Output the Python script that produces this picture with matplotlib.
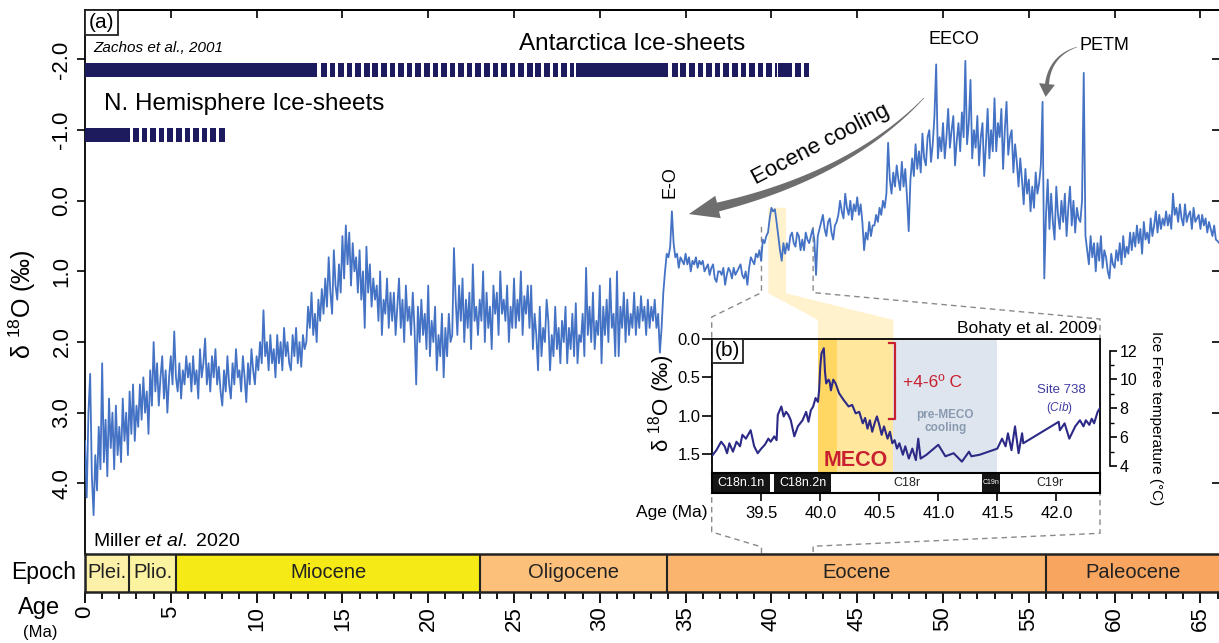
import numpy as np
import matplotlib
matplotlib.use("Agg")
import matplotlib.pyplot as plt
from matplotlib.patches import Polygon, Rectangle
import matplotlib.transforms as mtransforms

plt.rcParams['font.family'] = ['Liberation Sans', 'DejaVu Sans']
plt.rcParams['mathtext.fontset'] = 'custom'
plt.rcParams['mathtext.rm'] = 'Liberation Sans'
plt.rcParams['mathtext.it'] = 'Liberation Sans:italic'
plt.rcParams['mathtext.bf'] = 'Liberation Sans:bold'
plt.rcParams['mathtext.default'] = 'regular'
plt.rcParams['axes.linewidth'] = 1.3

# ---------------- data ----------------
main_age_start = 0.0
main_age_step = 0.1
main_d18o = [
    3.4, 4.2, 3.0, 2.45, 3.9, 4.45, 3.6, 4.1, 3.2, 3.8,
    2.3, 3.7, 3.1, 3.9, 2.8, 3.5, 3.0, 3.8, 2.9, 3.6,
    3.2, 3.7, 2.8, 3.4, 3.0, 3.6, 2.7, 3.3, 2.6, 3.4,
    2.9, 3.2, 2.6, 3.1, 2.5, 3.0, 2.7, 3.3, 2.4, 2.9,
    2.0, 2.7, 2.3, 2.9, 2.5, 2.2, 2.8, 2.4, 3.0, 2.5,
    2.2, 2.6, 1.85, 2.5, 2.7, 2.3, 2.8, 2.4, 2.6, 2.2,
    2.5, 2.3, 2.7, 2.2, 2.6, 2.4, 2.8, 2.1, 2.5, 2.3,
    1.95, 2.6, 2.3, 2.7, 2.2, 2.5, 2.1, 2.6, 2.35, 2.7,
    2.9, 2.4, 2.7, 2.2, 2.6, 2.8, 2.3, 2.6, 2.1, 2.5,
    2.4, 2.7, 2.2, 2.5, 2.85, 2.3, 2.6, 2.1, 2.4, 2.6,
    2.2, 2.4, 2.0, 2.3, 1.55, 2.2, 2.0, 2.4, 1.9, 2.3,
    2.1, 2.5, 1.9, 2.3, 2.0, 2.4, 1.8, 2.2, 2.0, 2.3,
    2.4, 1.9, 2.2, 1.8, 2.3, 2.0, 2.35, 1.9, 2.1, 2.0,
    1.5, 1.8, 1.3, 1.9, 1.6, 2.0, 1.4, 1.7, 1.25, 1.6,
    1.1, 1.5, 0.8, 1.3, 1.6, 0.7, 1.2, 1.4, 0.9, 1.3,
    0.5, 1.1, 0.35, 0.9, 0.45, 1.2, 0.6, 1.0, 0.8, 1.3,
    0.7, 1.4, 1.0, 1.8, 0.65, 1.3, 0.9, 1.5, 1.1, 1.4,
    1.2, 1.7, 1.0, 1.9, 1.4, 1.6, 1.1, 1.8, 1.3, 1.7,
    1.3, 1.9, 1.5, 1.1, 1.8, 1.4, 2.0, 1.2, 1.7, 1.5,
    1.9, 1.3, 1.8, 2.6, 1.5, 2.0, 1.4, 1.9, 1.6, 2.1,
    1.2, 2.2, 1.7, 2.0, 1.5, 2.4, 1.9, 2.2, 1.6, 2.5,
    1.8, 2.2, 1.6, 2.0, 1.9, 0.67, 1.4, 1.9, 1.2, 1.7,
    1.1, 2.0, 1.4, 1.8, 1.3, 2.1, 0.9, 1.7, 1.5, 1.9,
    1.4, 1.7, 1.0, 2.0, 1.3, 1.8, 1.5, 2.1, 1.2, 1.6,
    1.3, 1.9, 1.0, 1.6, 1.4, 1.7, 1.2, 2.0, 1.5, 1.8,
    1.1, 1.8, 1.4, 1.7, 1.0, 1.9, 1.35, 1.6, 1.2, 1.8,
    1.2, 2.1, 1.6, 1.9, 2.4, 1.5, 2.2, 1.8, 2.0, 1.4,
    1.7, 2.4, 1.9, 2.2, 1.5, 2.1, 1.8, 2.3, 1.7, 2.0,
    1.5, 2.3, 1.8, 2.1, 1.6, 2.2, 1.45, 2.3, 1.9, 2.0,
    1.6, 2.2, 0.95, 1.9, 1.5, 2.0, 1.3, 2.1, 1.7, 1.9,
    1.2, 2.3, 1.5, 1.9, 1.4, 2.0, 1.1, 1.8, 1.6, 2.2,
    1.0, 2.2, 1.5, 1.8, 1.3, 2.0, 1.4, 1.9, 1.6, 1.8,
    1.3, 1.9, 1.5, 1.8, 1.35, 1.7, 1.5, 1.9, 1.4, 1.8,
    1.5, 1.7, 1.4, 1.8, 1.6, 2.15, 1.8, 1.3, 1.0, 0.75,
    0.8, 0.65, 0.15, 0.6, 0.8, 0.75, 0.95, 0.8, 0.85, 0.9,
    0.75, 0.9, 0.8, 1.0, 0.85, 0.9, 0.8, 0.95, 0.85, 0.9,
    0.85, 1.0, 0.95, 0.9, 1.05, 0.95, 0.9, 1.1, 1.15, 1.0,
    1.0, 1.05, 0.95, 1.19, 1.05, 0.95, 1.0, 1.1, 0.95, 1.05,
    1.0, 0.95, 0.9, 1.05, 1.1, 1.0, 1.19, 0.95, 0.8, 0.85,
    0.9, 0.75, 0.8, 0.7, 0.85, 0.55, 0.6, 0.5, 0.45, 0.25,
    0.1, 0.15, 0.12, 0.3, 0.5, 0.7, 0.85, 0.6, 0.75, 0.6,
    0.7, 0.5, 0.45, 0.6, 0.65, 0.45, 0.5, 0.7, 0.55, 0.7,
    0.45, 0.55, 0.6, 0.5, 0.4, 0.55, 1.05, 0.5, 0.4, 0.3,
    0.2, 0.4, 0.5, 0.3, 0.25, 0.45, 0.55, 0.35, 0.3, 0.2,
    0.0, 0.15, 0.25, -0.1, 0.1, 0.2, 0.0, 0.27, 0.05, 0.15,
    -0.05, 0.2, 0.05, 0.3, 0.7, 0.45, 0.55, 0.3, 0.5, 0.35,
    0.35, 0.2, 0.3, 0.1, 0.2, 0.0, 0.1, -0.1, -0.82, -0.3,
    -0.1, -0.4, -0.2, -0.5, -0.3, -0.15, -0.55, -0.2, -0.45, -0.05,
    0.43, -0.3, -0.6, -0.35, -0.8, -0.45, -0.7, -0.4, -0.95, -0.6,
    -0.5, -0.9, -1.0, -0.55, -0.8, -1.2, -1.93, -0.6, -0.9, -0.7,
    -1.1, -0.6, -0.9, -1.3, -0.75, -1.0, -1.2, -0.5, -0.85, -1.1,
    -0.7, -1.25, -0.9, -1.98, -0.8, -1.1, -1.71, -0.6, -1.0, -0.75,
    -1.2, -0.5, -0.9, -1.1, -0.35, -0.8, -1.3, -0.6, -1.0, -0.7,
    -1.45, -0.7, -1.1, -0.9, -1.3, -0.45, -1.0, -1.4, -0.65, -0.9,
    -1.0, -0.4, -0.8, -0.55, -0.2, -0.6, -0.3, 0.05, -0.45, -0.1,
    -0.3, 0.15, -0.2, 0.1, -0.4, -0.1, -0.25, -0.5, -1.4, 1.1,
    0.2, -0.3, 0.4, -0.1, 0.3, 0.55, -0.2, 0.2, 0.4, 0.0,
    0.3, -0.1, 0.5, 0.1, -0.2, 0.35, 0.0, 0.45, 0.1, 0.25,
    0.3, 0.0, -1.81, 0.5, 0.7, 0.9, 0.5, 0.8, 0.6, 1.0,
    0.6, 0.85, 0.5, 0.95, 0.7, 0.8, 1.0, 1.1, 0.75, 0.9,
    0.95, 0.7, 0.85, 0.6, 0.9, 0.5, 0.8, 0.65, 0.75, 0.45,
    0.7, 0.45, 0.65, 0.35, 0.6, 0.4, 0.75, 0.3, 0.55, 0.45,
    0.6, 0.25, 0.5, 0.35, 0.15, 0.45, 0.2, 0.4, 0.25, 0.35,
    0.15, 0.35, 0.2, 0.4, -0.1, 0.2, 0.1, 0.3, 0.05, 0.25,
    0.35, 0.05, 0.3, 0.2, 0.15, 0.4, 0.1, 0.3, 0.25, 0.2,
    0.4, 0.2, 0.35, 0.25, 0.45, 0.3, 0.4, 0.5, 0.35, 0.55,
    0.57, 0.6,
]
main_age = np.round(main_age_start + main_age_step * np.arange(len(main_d18o)), 2)

inset_age = [
    39.09, 39.12, 39.16, 39.19, 39.21, 39.23, 39.26, 39.29, 39.32, 39.34,
    39.37, 39.41, 39.44, 39.47, 39.50, 39.53, 39.56, 39.58, 39.61, 39.63,
    39.64, 39.67, 39.69, 39.71, 39.73, 39.75, 39.78, 39.81, 39.85, 39.88,
    39.90, 39.92, 39.94, 39.96, 39.98, 39.99, 40.00, 40.01, 40.03, 40.04,
    40.05, 40.07, 40.08, 40.09, 40.11, 40.13, 40.16, 40.20, 40.24, 40.27,
    40.30, 40.33, 40.36, 40.38, 40.40, 40.42, 40.44, 40.46, 40.48, 40.50,
    40.52, 40.54, 40.57, 40.59, 40.61, 40.63, 40.65, 40.67, 40.70, 40.72,
    40.75, 40.78, 40.81, 40.83, 40.85, 40.90, 41.00, 41.06, 41.13, 41.20,
    41.26, 41.28, 41.35, 41.50, 41.54, 41.57, 41.59, 41.62, 41.65, 41.68,
    41.71, 41.72, 42.02, 42.03, 42.07, 42.11, 42.16, 42.20, 42.23, 42.25,
    42.28, 42.30, 42.32, 42.35, 42.37,
]
inset_d18o = [
    1.51, 1.45, 1.34, 1.40, 1.49, 1.36, 1.47, 1.34, 1.40, 1.25,
    1.30, 1.19, 1.40, 1.49, 1.43, 1.38, 1.30, 1.34, 1.27, 1.32,
    0.99, 0.88, 1.01, 0.95, 0.99, 1.06, 1.27, 1.14, 1.06, 0.95,
    1.08, 0.93, 0.88, 0.77, 0.82, 0.67, 0.36, 0.19, 0.12, 0.43,
    0.58, 0.53, 0.56, 0.67, 0.53, 0.58, 0.71, 0.80, 0.88, 0.86,
    0.97, 0.95, 1.10, 1.03, 1.17, 1.06, 1.21, 1.10, 1.01, 1.12,
    1.25, 1.14, 1.30, 1.21, 1.36, 1.32, 1.43, 1.36, 1.51, 1.40,
    1.56, 1.43, 1.58, 1.30, 1.56, 1.51, 1.38, 1.53, 1.49, 1.60,
    1.47, 1.53, 1.51, 1.43, 1.30, 1.40, 1.23, 1.45, 1.14, 1.49,
    1.23, 1.36, 1.08, 1.19, 1.10, 1.30, 1.14, 1.06, 1.14, 1.06,
    1.12, 1.04, 1.10, 0.95, 0.90,
]

epoch_names = ['Plei.', 'Plio.', 'Miocene', 'Oligocene', 'Eocene', 'Paleocene']
epoch_bounds = [0.0, 2.58, 5.33, 23.03, 33.9, 56.0, 66.2]
epoch_colors = ['#FDF1AA', '#FBF3A0', '#F5EA16', '#FDC07A', '#FAB46D', '#F8A65F']

chron_names = ['C18n.1n', '', 'C18n.2n', 'C18r', 'C19n', 'C19r']
chron_bounds = [39.08, 39.57, 39.61, 40.09, 41.37, 41.52, 42.37]
chron_normal = [True, False, True, False, True, False]

antarctic_solid = [(0.0, 13.5), (28.6, 34.0), (40.36, 41.18)]
antarctic_dashed = [(13.75, 28.5), (34.2, 40.3), (41.4, 42.2)]
nh_solid = [(0.0, 2.6)]
nh_dashed = [(2.8, 8.2)]

meco_event = (39.98, 40.62)
meco_core = (39.98, 40.14)
pre_meco = (40.62, 41.5)

main_yticks = [-2.0, -1.0, 0.0, 1.0, 2.0, 3.0, 4.0]
main_xticks = list(range(0, 66, 5))
inset_yticks = [0.0, 0.5, 1.0, 1.5]
inset_xticks = [39.5, 40.0, 40.5, 41.0, 41.5, 42.0]
temp_ticks = [4, 6, 8, 10, 12]
temp_minor = [5, 7, 9, 11]

# ---------------- layout helpers ----------------
W, H = 1219, 643
fig = plt.figure(figsize=(W / 100, H / 100), dpi=100)


def rect(l, t, r, b):
    return [l / W, 1 - b / H, (r - l) / W, (b - t) / H]


def fxy(x, y):
    return (x / W, 1 - y / H)


def ftext(x, y, s, **kw):
    return fig.text(x / W, 1 - y / H, s, **kw)


BLUE = '#4472C4'
NAVY = '#1E1A5E'
RED = '#C8202F'
GREY = '#6E6E6E'

# ---------------- main axes ----------------
ax = fig.add_axes(rect(85, 10, 1220, 554))
ax.set_xlim(0, 66.14)
ax.set_ylim(5.0, -2.7)
ax.plot(main_age, main_d18o, color=BLUE, lw=1.3, zorder=3)


def dash_pieces(segments, period=0.5, dash=0.33):
    out = []
    for s, e in segments:
        for d0 in np.arange(s, e, period):
            out.append((d0, min(dash, e - d0)))
    return out


def solid_pieces(segments):
    return [(s, e - s) for s, e in segments]


ax.broken_barh(solid_pieces(antarctic_solid) + dash_pieces(antarctic_dashed), (-1.95, 0.2),
               facecolors=NAVY, zorder=4)
ax.broken_barh(solid_pieces(nh_solid) + dash_pieces(nh_dashed), (-1.03, 0.2),
               facecolors=NAVY, zorder=4)

ax.set_yticks(main_yticks)
ax.set_yticklabels(['%.1f' % v for v in main_yticks], rotation=90, va='center', fontsize=16)
ax.tick_params(axis='y', direction='out', length=6, width=1.2, pad=3)
ax.tick_params(axis='x', bottom=False, labelbottom=False)
ax.spines['bottom'].set_visible(False)
ax.spines['right'].set_visible(False)

secx = ax.secondary_xaxis('top')
secx.set_xticks(main_xticks[1:])
secx.tick_params(direction='in', length=6, width=1.2, labeltop=False)
secy = ax.secondary_yaxis('right')
secy.set_yticks(main_yticks)
secy.tick_params(direction='in', length=6, width=1.2, labelright=False)

# ---------------- epoch bar ----------------
ax_e = fig.add_axes(rect(85, 554, 1220, 592))
ax_e.set_xlim(ax.get_xlim())
ax_e.set_ylim(0, 1)
for i, name in enumerate(epoch_names):
    b0, b1 = epoch_bounds[i], epoch_bounds[i + 1]
    ax_e.axvspan(b0, b1, color=epoch_colors[i], lw=0)
    if i > 0:
        ax_e.axvline(b0, color='#222222', lw=1.5)
    ax_e.text((b0 + min(b1, 66.14)) / 2, 0.5, name, ha='center', va='center', fontsize=14.5,
              color='#222222')
ax_e.set_yticks([])
ax_e.set_xticks(main_xticks)
ax_e.set_xticks(np.arange(0, 67, 1), minor=True)
ax_e.set_xticklabels([str(v) for v in main_xticks], rotation=90, fontsize=16)
ax_e.tick_params(axis='x', which='major', direction='out', length=8, width=1.3, pad=2)
ax_e.tick_params(axis='x', which='minor', direction='out', length=5, width=1.3)
for sp in ax_e.spines.values():
    sp.set_linewidth(1.8)
    sp.set_color('#222222')

ftext(44, 573, 'Epoch', ha='center', va='center', fontsize=16.5)
ftext(39, 608, 'Age', ha='center', va='center', fontsize=17)
ftext(40, 633, '(Ma)', ha='center', va='center', fontsize=12)

# ---------------- inset ----------------
axi = fig.add_axes(rect(711.7, 339, 1100, 473))
axi.set_zorder(5)
axi.set_xlim(chron_bounds[0], chron_bounds[-1])
axi.set_ylim(1.748, 0.0)
axi.axvspan(*meco_event, color='#FFE79E', lw=0, zorder=0)
axi.axvspan(*meco_core, color='#FFD762', lw=0, zorder=0.5)
axi.axvspan(*pre_meco, color='#DEE5EE', lw=0, zorder=0)
axi.plot(inset_age, inset_d18o, color='#2C2A86', lw=1.5, zorder=3)
axi.set_yticks(inset_yticks)
axi.set_yticklabels(['%.1f' % v for v in inset_yticks], fontsize=12)
axi.tick_params(axis='y', direction='out', length=7, width=1.2, pad=1)
axi.tick_params(axis='x', bottom=False, labelbottom=False)

# bracket and annotations
axi.plot([40.58, 40.63, 40.63, 40.58], [0.057, 0.057, 1.04, 1.04], color=RED, lw=1.6, zorder=4)
axi.text(40.70, 0.57, '+4-6º C', color=RED, fontsize=12.5, ha='left', va='center', zorder=5)
axi.text(40.30, 1.58, 'MECO', color=RED, fontsize=15.5, fontweight='bold', ha='center',
         va='center', zorder=5)
axi.text(41.06, 1.08, 'pre-MECO\ncooling', color='#8A9AB0', fontsize=8.5, fontweight='bold',
         ha='center', va='center', linespacing=1.1, zorder=5)
axi.text(42.04, 0.67, 'Site 738', color='#3F3BA0', fontsize=9.5, ha='center', va='center', zorder=5)
axi.text(42.03, 0.90, r'($\it{Cib}$)', color='#3F3BA0', fontsize=8.5, ha='center', va='center',
         zorder=5)
axi.add_patch(Rectangle((0, 1 - 24 / 134), 31.6 / 388.3, 24 / 134, transform=axi.transAxes,
                        facecolor='white', edgecolor='#222222', lw=1.3, zorder=6))
axi.text(15.8 / 388.3, 1 - 12 / 134, '(b)', transform=axi.transAxes, fontsize=15,
         ha='center', va='center', zorder=7)

# temperature axis
axt = axi.twinx()
axt.set_zorder(6)
axt.set_ylim(3.51, 12.81)
for s in ['top', 'left', 'bottom']:
    axt.spines[s].set_visible(False)
axt.spines['right'].set_position(('outward', 7))
axt.spines['right'].set_bounds(4, 12)
axt.spines['right'].set_linewidth(1.2)
axt.set_yticks(temp_ticks)
axt.set_yticks(temp_minor, minor=True)
axt.tick_params(axis='y', which='major', length=5, width=1.2, labelsize=11.5, pad=2)
axt.tick_params(axis='y', which='minor', length=3, width=1.0)
ftext(1156, 418, 'Ice Free temperature (°C)', rotation=270, ha='center', va='center',
      fontsize=11)

# chron bar
axc = fig.add_axes(rect(711.7, 473, 1100, 493))
axc.set_zorder(5)
axc.set_xlim(chron_bounds[0], chron_bounds[-1])
axc.set_ylim(0, 1)
for i, name in enumerate(chron_names):
    b0, b1 = chron_bounds[i], chron_bounds[i + 1]
    if chron_normal[i]:
        axc.axvspan(b0, b1, color='#151515', lw=0)
    fs = 5 if name == 'C19n' else 9
    axc.text((b0 + b1) / 2, 0.5, name, ha='center', va='center', fontsize=fs,
             color='white' if chron_normal[i] else '#222222')
axc.set_yticks([])
axc.set_xticks(inset_xticks)
axc.set_xticklabels(['%.1f' % v for v in inset_xticks], fontsize=12)
axc.tick_params(axis='x', direction='out', length=6, width=1.2, pad=3)
for sp in axc.spines.values():
    sp.set_linewidth(1.5)

ftext(707, 513, 'Age (Ma)', ha='right', va='center', fontsize=12.5)
ftext(1097, 328, 'Bohaty et al. 2009', ha='right', va='center', fontsize=12.5)
ftext(662, 403, 'δ $^{18}$O (‰)', rotation=90, ha='center', va='center', fontsize=16)

# ---------------- zoom connectors and MECO wedge (in main data coords) ----------------
inv = ax.transData.inverted()
blend_i = mtransforms.blended_transform_factory(axi.transData, axi.transAxes)


def m(x, y):
    return ax.transData.transform((x, y))


def ia(xf, yf):
    return axi.transAxes.transform((xf, yf))


def ib(x, yf):
    return blend_i.transform((x, yf))


left_conn = inv.transform(np.array([m(39.42, 0.37), m(39.42, 1.3), ia(0, 1.164), ia(0, -0.44),
                                    m(39.42, 4.90), m(39.42, 5.0)]))
right_conn = inv.transform(np.array([m(42.43, 0.37), m(42.43, 1.3), ia(1, 1.149), ia(1, -0.45),
                                     m(42.43, 4.89), m(42.43, 5.0)]))
for c in (left_conn, right_conn):
    ax.plot(c[:, 0], c[:, 1], color='#8A8A8A', lw=1.0, ls=(0, (4, 3)), clip_on=False, zorder=1)

wedge = inv.transform(np.array([m(39.82, 0.10), m(40.85, 0.10), m(40.85, 1.31),
                                ib(meco_event[1], 1.142), ib(meco_event[1], 1.0),
                                ib(meco_event[0], 1.0), ib(meco_event[0], 1.142),
                                m(39.82, 1.31)]))
ax.add_patch(Polygon(wedge, closed=True, facecolor='#FFF2CC', edgecolor='none', zorder=1,
                     clip_on=False))


# ---------------- arrows ----------------
def tapered_arrow(P0, P1, P2, w0, w1, head_w, head_len, color):
    P0 = np.asarray(P0, float); P1 = np.asarray(P1, float); P2 = np.asarray(P2, float)
    t = np.linspace(0, 1, 80)
    pts = ((1 - t) ** 2)[:, None] * P0 + (2 * (1 - t) * t)[:, None] * P1 + (t ** 2)[:, None] * P2
    d = (2 * (1 - t))[:, None] * (P1 - P0) + (2 * t)[:, None] * (P2 - P1)
    d /= np.linalg.norm(d, axis=1)[:, None]
    n = np.stack([-d[:, 1], d[:, 0]], axis=1)
    w = w0 + (w1 - w0) * t
    left = pts + n * (w / 2)[:, None]
    right = pts - n * (w / 2)[:, None]
    tip = P2 + d[-1] * head_len
    hl = P2 + n[-1] * head_w / 2
    hr = P2 - n[-1] * head_w / 2
    poly = np.vstack([left, hl, tip, hr, right[::-1]])
    poly_f = np.column_stack([poly[:, 0] / W, 1 - poly[:, 1] / H])
    fig.add_artist(Polygon(poly_f, closed=True, transform=fig.transFigure, facecolor=color,
                           edgecolor='none', zorder=6))


tapered_arrow((924, 98), (850, 175), (718, 207), 0.6, 9, 23, 30, GREY)
tapered_arrow((1077, 47), (1050, 56), (1047, 84), 0.5, 4, 16, 13, GREY)

# ---------------- texts ----------------
fig.add_artist(Rectangle(fxy(85, 35), 33 / W, 25 / H, transform=fig.transFigure,
                         facecolor='white', edgecolor='#222222', lw=1.3, zorder=7))
ftext(101.5, 22.5, '(a)', ha='center', va='center', fontsize=15, zorder=8)
ftext(93, 47.5, 'Zachos et al., 2001', ha='left', va='center', fontsize=11, style='italic',
      zorder=6)
ftext(632, 44, 'Antarctica Ice-sheets', ha='center', va='center', fontsize=17.5, zorder=6)
ftext(104, 104, 'N. Hemisphere Ice-sheets', ha='left', va='center', fontsize=17.5, zorder=6)
ftext(954, 40, 'EECO', ha='center', va='center', fontsize=13, zorder=6)
ftext(1104, 46, 'PETM', ha='center', va='center', fontsize=13, zorder=6)
ftext(670, 182, 'E-O', ha='center', va='center', fontsize=13, rotation=90, zorder=6)
ftext(821, 145, 'Eocene cooling', ha='center', va='center', fontsize=16, rotation=27.5,
      zorder=6)
ftext(93, 541, r'Miller $\it{et}$ $\it{al.}$ 2020', ha='left', va='center', fontsize=14, zorder=6)
ftext(22, 304, 'δ $^{18}$O (‰)', rotation=90, ha='center', va='center', fontsize=18)

fig.savefig('out.png', dpi=100)
